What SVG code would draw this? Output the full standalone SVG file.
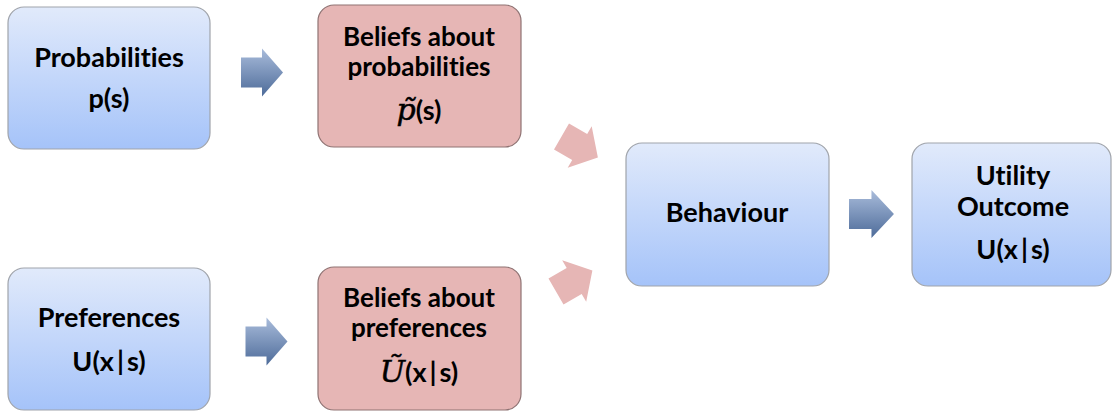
<svg xmlns="http://www.w3.org/2000/svg" width="1113" height="411" viewBox="0 0 1113 411">
<defs>
<linearGradient id="gBox" x1="0" y1="0" x2="0" y2="1">
<stop offset="0" stop-color="#e1eafb"/>
<stop offset="1" stop-color="#a5c3f9"/>
</linearGradient>
<linearGradient id="gArr" x1="0" y1="0" x2="0" y2="1">
<stop offset="0" stop-color="#a9bcdb"/>
<stop offset="1" stop-color="#4d6b99"/>
</linearGradient>
<path id="arr" d="M0,-15 H21 V-24 L42,0 L21,24 V15 H0 Z"/>
</defs>
<style>
.blue{fill:url(#gBox);stroke:#a0a4ab;stroke-width:1.2}
.pink{fill:#e6b6b5;stroke:#8f7373;stroke-width:1.2}
.t{font-family:Lato,"Liberation Sans",sans-serif;font-weight:bold;font-size:27px;fill:#000;text-anchor:middle;font-variant-ligatures:none;font-feature-settings:"liga" 0}
.s{font-size:26px}
.m{font-family:"DejaVu Serif","Liberation Serif",serif;font-style:italic;font-weight:normal;font-size:30px;stroke:#000;stroke-width:0.5}
.ba{fill:url(#gArr)}
.pa{fill:#e6b6b5}
</style>
<rect width="1113" height="411" fill="#ffffff"/>
<g id="connectors">
<use href="#arr" class="ba" transform="translate(241,72.5)"/>
<use href="#arr" class="ba" transform="translate(245.5,341.5)"/>
<use href="#arr" class="ba" transform="translate(849,214) scale(1.07,1)"/>
<use href="#arr" class="pa" transform="translate(561.5,136.5) rotate(30)"/>
<use href="#arr" class="pa" transform="translate(556,291.5) rotate(-30)"/>
</g>
<g id="probabilities">
<rect class="blue" x="8" y="7" width="202" height="142" rx="16"/>
<text class="t" x="109" y="67">Probabilities</text>
<text class="t" x="109" y="108">p(s)</text>
</g>
<g id="beliefs-probabilities">
<rect class="pink" x="318" y="5" width="203" height="142" rx="16"/>
<text class="t s" x="419" y="46">Beliefs about</text>
<text class="t s" x="419" y="76">probabilities</text>
<text class="t" x="419" y="120"><tspan class="m">p̃</tspan>(s)</text>
</g>
<g id="preferences">
<rect class="blue" x="8" y="268" width="202" height="142" rx="16"/>
<text class="t" x="109" y="327">Preferences</text>
<text class="t" x="109" y="371">U(x<tspan dx="3">|</tspan><tspan dx="3">s)</tspan></text>
</g>
<g id="beliefs-preferences">
<rect class="pink" x="318" y="267" width="203" height="143" rx="16"/>
<text class="t s" x="419" y="307">Beliefs about</text>
<text class="t s" x="419" y="337">preferences</text>
<text class="t" x="419" y="382"><tspan class="m">Ũ</tspan>(x<tspan dx="3">|</tspan><tspan dx="3">s)</tspan></text>
</g>
<g id="behaviour">
<rect class="blue" x="626" y="143" width="203" height="143" rx="16"/>
<text class="t" x="727" y="222">Behaviour</text>
</g>
<g id="utility-outcome">
<rect class="blue" x="912" y="143" width="199" height="143" rx="16"/>
<text class="t" x="1013" y="185">Utility</text>
<text class="t" x="1013" y="216">Outcome</text>
<text class="t" x="1013" y="259">U(x<tspan dx="3">|</tspan><tspan dx="3">s)</tspan></text>
</g>
</svg>
